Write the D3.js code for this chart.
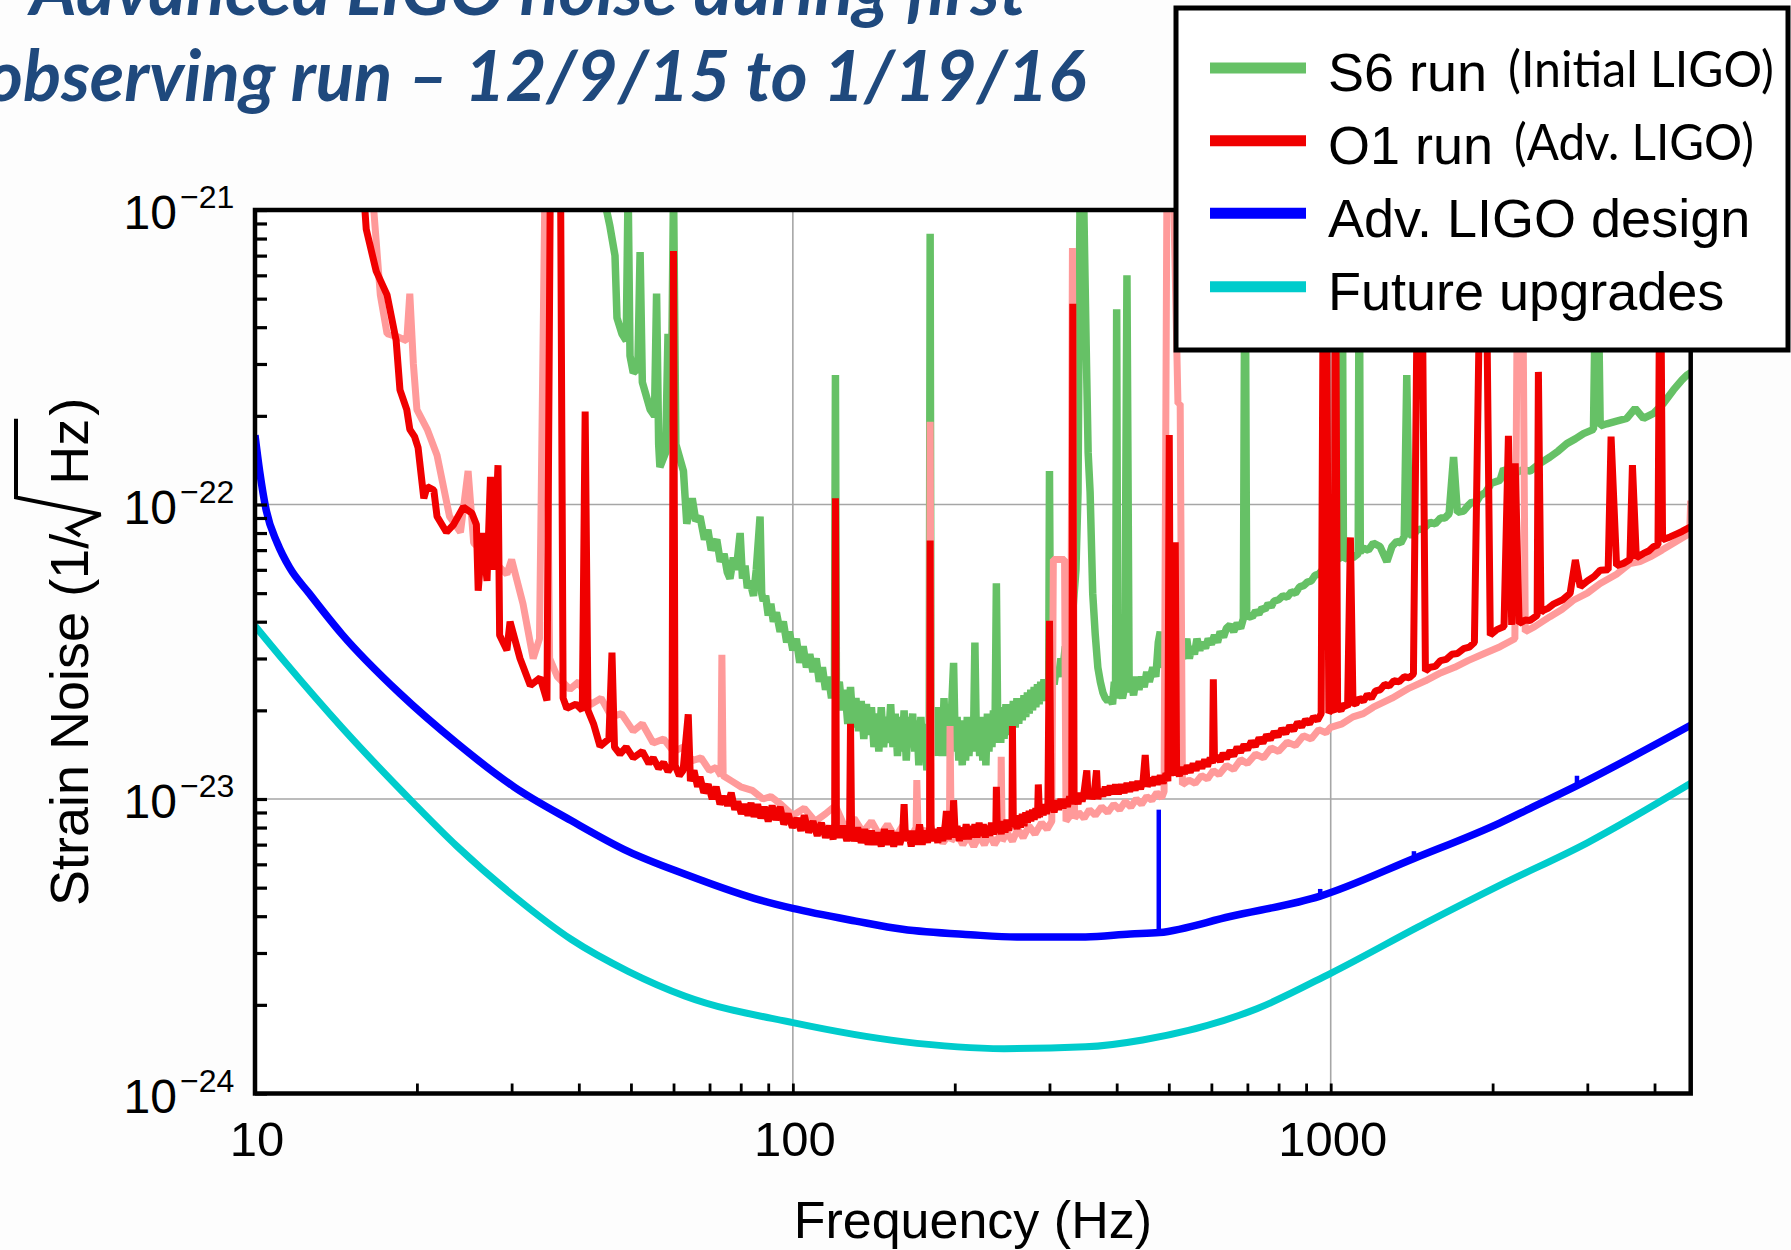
<!DOCTYPE html>
<html>
<head>
<meta charset="utf-8">
<script src="https://cdn.jsdelivr.net/npm/d3@7/dist/d3.min.js"></script>
<style>
  html, body { margin: 0; padding: 0; background: #ffffff; }
  svg { display: block; }
</style>
</head>
<body>
<svg id="chart" width="1791" height="1250"></svg>
<script>
// ---- Data: [frequency (Hz), strain noise (1/sqrt(Hz))] ----
const s6Run = [
  [44.1,1.2e-21],[45.7,8.8e-22],[46.7,7.0e-22],[47.1,4.3e-22],[48.1,3.8e-22],[49.0,3.6e-22],
  [49.4,1.2e-21],[49.8,3.2e-22],[50.5,2.8e-22],[51.5,2.9e-22],[52.0,7.2e-22],[52.5,2.6e-22],
  [54.3,2.1e-22],[55.3,2.0e-22],[55.8,5.2e-22],[56.3,1.6e-22],[56.6,1.34e-22],[58.0,1.5e-22],
  [58.6,3.8e-22],[59.4,2.0e-22],[60.0,1.2e-21],[60.6,1.6e-22],[62.6,1.3e-22],[63.5,8.6e-23],
  [65,1.05e-22],[66,8.8e-23],[67.2,9.1e-23],[68.5,7.6e-23],[69.5,8.2e-23],[70.5,7.0e-23],
  [72.2,7.6e-23],[73.3,6.4e-23],[74.5,6.8e-23],[75.5,5.9e-23],[76.4,5.6e-23],[77.5,6.6e-23],
  [78.5,6.0e-23],[79.8,8.0e-23],[80.6,5.6e-23],[81.5,6.2e-23],[82.3,5.2e-23],[83.2,5.5e-23],
  [84.5,4.9e-23],[85.5,6.0e-23],[86.9,9.1e-23],[87.5,5.0e-23],[88.1,4.7e-23],[89,4.9e-23],
  [90,4.2e-23],[91,4.6e-23],[92,4.0e-23],[93.2,4.3e-23],[94.7,3.7e-23],[96,4.0e-23],
  [97.4,3.4e-23],[98.5,3.7e-23],[100,3.2e-23],[101.5,3.5e-23],[103,2.9e-23],[104.5,3.3e-23],
  [106,2.8e-23],[107.5,3.1e-23],[109,2.7e-23],[110.5,3.0e-23],[112,2.5e-23],[113.5,2.8e-23],
  [115,2.35e-23],[116.5,2.6e-23],[118,2.2e-23],[119.5,2.5e-23],[120,2.75e-22],[120.5,2.3e-23],
  [122,2.5e-23],[123.5,2.0e-23],[125,2.35e-23],[126.5,1.8e-23],[128,2.4e-23],[129.5,1.75e-23],
  [131,2.2e-23],[132.5,1.7e-23],[134,2.15e-23],[135.5,1.6e-23],[137,2.1e-23],[138.5,1.65e-23],
  [140,2.05e-23],[141.5,1.5e-23],[143,1.95e-23],[144.5,1.45e-23],[146,2.05e-23],[147.5,1.5e-23],
  [149,1.9e-23],[150.5,1.55e-23],[152,2.1e-23],[153.5,1.5e-23],[155,1.95e-23],[156.5,1.4e-23],
  [158,1.9e-23],[159.5,1.45e-23],[161,2.0e-23],[162.5,1.35e-23],[164,1.9e-23],[165.5,1.5e-23],
  [167,1.95e-23],[168.5,1.45e-23],[170,1.85e-23],[171.5,1.3e-23],[173,1.9e-23],[174.5,1.4e-23],
  [176,1.8e-23],[177.5,1.25e-23],[179.3,1.7e-23],[180,8.3e-22],[180.7,1.6e-23],[182,1.9e-23],
  [183.5,1.4e-23],[185,2.05e-23],[186.5,1.45e-23],[188,1.95e-23],[189.5,1.4e-23],[191,2.2e-23],
  [192.5,1.5e-23],[194,2.0e-23],[195.5,1.4e-23],[197,1.9e-23],[199,2.9e-23],[200.5,1.45e-23],
  [202,1.9e-23],[203.5,1.35e-23],[205,1.85e-23],[206.5,1.3e-23],[208,1.8e-23],[209.5,1.35e-23],
  [211,1.9e-23],[212.5,1.4e-23],[214,1.8e-23],[215.5,1.45e-23],[217,1.9e-23],[218,3.4e-23],
  [219.5,1.5e-23],[221,1.85e-23],[222.5,1.4e-23],[224,1.9e-23],[225.5,1.35e-23],[227,1.85e-23],
  [228.5,1.3e-23],[230,1.95e-23],[231.5,1.45e-23],[233,1.9e-23],[234.5,1.5e-23],[236,2.0e-23],
  [237.5,1.55e-23],[239,5.4e-23],[240.5,1.6e-23],[242,2.0e-23],[243.5,1.55e-23],[245,2.05e-23],
  [247,1.6e-23],[249,2.1e-23],[251,1.65e-23],[253,2.1e-23],[255,1.7e-23],[257,2.15e-23],
  [259,1.75e-23],[261,2.2e-23],[263,1.8e-23],[265,2.2e-23],[267,1.85e-23],[269,2.25e-23],
  [271,1.9e-23],[273,2.3e-23],[275,1.95e-23],[277,2.35e-23],[279,2.0e-23],[281,2.4e-23],
  [283,2.05e-23],[285,2.45e-23],[287,2.1e-23],[289,2.5e-23],[291,2.15e-23],[293,2.55e-23],
  [295,2.2e-23],[297,2.45e-23],[299,2.4e-23],[300,1.3e-22],[301.5,2.4e-23],[304,2.7e-23],
  [306,2.45e-23],[309,2.8e-23],[312,2.6e-23],[315,3.0e-23],[318,2.8e-23],[321,3.3e-23],
  [324,3.2e-23],[328,3.8e-23],[332,4.5e-23],[336,6.0e-23],[339,1.1e-22],[342,1.2e-21],
  [347,1.2e-21],[351,3.5e-22],[354,1.5e-22],[357,1.1e-22],[361,5.0e-23],[365,3.6e-23],
  [369,2.8e-23],[373,2.5e-23],[377,2.3e-23],[381,2.2e-23],[385,2.15e-23],[389,2.2e-23],
  [393,2.1e-23],[396,2.5e-23],[398,2.2e-23],[400,4.6e-22],[402,2.2e-23],[406,2.35e-23],
  [410,2.2e-23],[414,2.4e-23],[418,6.0e-22],[422,2.3e-23],[426,2.5e-23],[430,2.25e-23],
  [435,2.6e-23],[440,2.35e-23],[445,2.6e-23],[450,2.4e-23],[455,2.7e-23],[460,2.5e-23],
  [467,2.8e-23],[473,2.6e-23],[478,3.4e-23],[482,3.7e-23],[486,2.8e-23],[492,2.9e-23],
  [500,3.0e-23],[506,2.85e-23],[512,3.1e-23],[518,2.9e-23],[525,3.1e-23],[532,3.0e-23],
  [540,3.5e-23],[546,3.0e-23],[552,3.3e-23],[558,3.1e-23],[564,3.5e-23],[571,3.2e-23],
  [578,3.4e-23],[585,3.25e-23],[592,3.5e-23],[600,3.35e-23],[608,3.6e-23],[616,3.4e-23],
  [623,3.7e-23],[632,3.55e-23],[640,3.8e-23],[650,3.9e-23],[660,3.7e-23],[670,3.95e-23],
  [680,3.8e-23],[688,4.1e-23],[693,1.2e-21],[698,4.1e-23],[705,4.2e-23],[715,4.15e-23],
  [725,4.35e-23],[735,4.25e-23],[745,4.45e-23],[755,4.4e-23],[765,4.6e-23],[775,4.5e-23],
  [785,4.7e-23],[800,4.75e-23],[815,4.9e-23],[830,4.85e-23],[845,5.05e-23],[860,5.0e-23],
  [875,5.25e-23],[890,5.3e-23],[905,5.45e-23],[920,5.5e-23],[935,5.75e-23],[950,5.8e-23],
  [965,6.0e-23],[980,6.1e-23],[995,6.3e-23],[1010,6.4e-23],[1030,6.6e-23],[1045,6.5e-23],
  [1050,1.2e-21],[1056,6.5e-23],[1080,6.7e-23],[1100,6.6e-23],[1125,6.8e-23],[1130,1.2e-21],
  [1135,6.9e-23],[1151,7.1e-23],[1175,7.0e-23],[1200,7.4e-23],[1235,7.2e-23],[1272,6.4e-23],
  [1300,7.2e-23],[1327,7.5e-23],[1350,7.4e-23],[1370,7.8e-23],[1385,2.75e-22],[1400,7.9e-23],
  [1425,7.9e-23],[1450,8.2e-23],[1490,8.3e-23],[1531,8.7e-23],[1565,8.6e-23],[1600,9.0e-23],
  [1630,9.0e-23],[1660,9.3e-23],[1692,1.45e-22],[1720,9.4e-23],[1766,9.5e-23],[1800,9.9e-23],
  [1830,1.02e-22],[1860,1.01e-22],[1896,1.07e-22],[1940,1.1e-22],[1990,1.18e-22],[2065,1.21e-22],
  [2096,1.32e-22],[2150,1.27e-22],[2200,1.28e-22],[2270,1.31e-22],[2349,1.3e-22],[2450,1.38e-22],
  [2557,1.45e-22],[2650,1.52e-22],[2748,1.61e-22],[2850,1.67e-22],[2951,1.74e-22],[3080,1.8e-22],
  [3125,1.2e-21],[3170,1.85e-22],[3261,1.88e-22],[3400,1.92e-22],[3552,1.96e-22],[3681,2.12e-22],
  [3815,1.96e-22],[3983,2.04e-22],[4150,2.2e-22],[4338,2.45e-22],[4500,2.65e-22],[4594,2.75e-22],
  [4670,2.8e-22]
];

// O1 run, first detector (bright red)
const o1RunA = [
  [15.9,1.2e-21],[16.1,8.6e-22],[16.8,6.2e-22],[17.6,5.15e-22],[18.3,3.6e-22],[18.6,2.45e-22],
  [19.15,2.1e-22],[19.4,1.8e-22],[19.8,1.7e-22],[20.1,1.56e-22],[20.6,1.05e-22],[20.9,1.15e-22],
  [21.5,1.12e-22],[21.8,9.1e-23],[22.7,8.05e-23],[23.4,8.55e-23],[24.4,9.8e-23],[25.3,9.35e-23],
  [25.8,8.55e-23],[26.0,5.1e-23],[26.5,8.0e-23],[27.0,5.5e-23],[27.4,1.24e-22],[27.8,6.0e-23],
  [28.3,1.36e-22],[28.5,3.6e-23],[29.4,3.2e-23],[29.8,4.0e-23],[31.1,3.0e-23],[32.5,2.43e-23],
  [33.9,2.58e-23],[34.9,2.16e-23],[35.4,1.2e-21],[37.0,1.2e-21],[37.4,2.2e-23],[38.0,2.03e-23],
  [39.5,2.1e-23],[40.6,2.0e-23],[41.1,2.07e-22],[41.6,2.0e-23],[42.6,1.8e-23],[43.8,1.51e-23],
  [45.5,1.6e-23],[46.1,3.14e-23],[46.6,1.5e-23],[47.7,1.42e-23],[49,1.5e-23],[50.5,1.38e-23],
  [52.5,1.45e-23],[54,1.32e-23],[55.0,1.38e-23],[56.3,1.27e-23],[57.5,1.33e-23],[58.6,1.24e-23],
  [59.6,1.3e-23],[60.0,7.26e-22],[60.4,1.3e-23],[61.5,1.2e-23],[62.5,1.25e-23],[63.9,1.94e-23],
  [64.5,1.15e-23],[65.5,1.25e-23],[66.5,1.1e-23],[67.2,1.19e-23],[68.3,1.05e-23],[69.6,1.12e-23],
  [70.8,1.0e-23],[72,1.1e-23],[73.2,9.6e-24],[74.5,1.02e-23],[75.6,9.5e-24],[76.8,1.05e-23],
  [78,9.2e-24],[79,9.8e-24],[80.2,8.9e-24],[81.3,9.6e-24],[82.5,8.8e-24],[83.6,9.7e-24],
  [84.7,8.7e-24],[86,9.6e-24],[87.2,8.6e-24],[88.5,9.4e-24],[90,8.4e-24],[91.5,9.5e-24],
  [93,8.5e-24],[94.7,9.4e-24],[96.2,8.2e-24],[98,8.9e-24],[99.8,8.0e-24],[101.7,8.6e-24],
  [103.5,7.8e-24],[105,8.8e-24],[107,7.7e-24],[109,8.4e-24],[111,7.5e-24],[113,8.3e-24],
  [115,7.4e-24],[117,8.1e-24],[118.8,7.3e-24],[119.6,8.0e-24],[120,1.05e-22],[120.5,8.0e-24],
  [122,7.4e-24],[124,8.1e-24],[126,7.2e-24],[127.5,8.0e-24],[128,1.8e-23],[128.6,7.8e-24],
  [130,7.2e-24],[132,8.0e-24],[134,7.1e-24],[136,7.9e-24],[138,7.0e-24],[140,7.8e-24],
  [142,7.0e-24],[144,7.7e-24],[146,6.9e-24],[148,7.9e-24],[150,7.0e-24],[152,7.8e-24],
  [154,6.9e-24],[156,7.7e-24],[158,7.0e-24],[160,7.6e-24],[161,9.6e-24],[162,7.2e-24],
  [164,7.8e-24],[166,6.9e-24],[168,7.8e-24],[170,7.0e-24],[172,8.2e-24],[174,7.0e-24],
  [176,7.8e-24],[178,7.1e-24],[179.6,8.0e-24],[180,7.55e-23],[180.5,8.2e-24],[182,7.2e-24],
  [184,7.9e-24],[186,7.1e-24],[188,8.0e-24],[190,7.2e-24],[192,8.2e-24],[193,9.1e-24],
  [194.5,7.3e-24],[196,8.0e-24],[198,7.4e-24],[199,9.9e-24],[200.5,7.4e-24],[202,8.1e-24],
  [204,7.2e-24],[206,8.0e-24],[208,7.3e-24],[210,8.2e-24],[212,7.3e-24],[214,8.1e-24],
  [216,7.4e-24],[218,8.2e-24],[220,7.4e-24],[222,8.3e-24],[224,7.5e-24],[226,8.2e-24],
  [228,7.4e-24],[230,8.1e-24],[232,7.5e-24],[234,8.3e-24],[236,7.6e-24],[238.5,8.2e-24],
  [239,1.1e-23],[240,7.7e-24],[242,8.3e-24],[244,7.6e-24],[246,8.4e-24],[248,7.7e-24],
  [250,8.5e-24],[252,7.8e-24],[254,8.5e-24],[255.5,8.0e-24],[256,1.77e-23],[257,8.1e-24],
  [259,8.7e-24],[261,7.9e-24],[263,8.8e-24],[265,8.0e-24],[267,8.9e-24],[269,8.1e-24],
  [271,9.0e-24],[273,8.3e-24],[275,9.1e-24],[277,8.4e-24],[279,9.2e-24],[281,8.5e-24],
  [283,9.3e-24],[285,8.6e-24],[286,1.12e-23],[287.5,8.7e-24],[290,9.4e-24],[292,8.8e-24],
  [294,9.6e-24],[296,8.9e-24],[298,9.7e-24],[300,4.03e-23],[302,9.1e-24],[304,9.8e-24],
  [306,9.0e-24],[309,9.9e-24],[312,9.2e-24],[315,1.0e-23],[318,9.3e-24],[321,1.0e-23],
  [324,9.4e-24],[327,1.02e-23],[330,9.6e-24],[331.5,4.8e-22],[333,9.6e-24],[336,1.03e-23],
  [339,9.6e-24],[342,1.05e-23],[345,9.8e-24],[348,1.06e-23],[352,1.25e-23],[354,1.0e-23],
  [357,1.07e-23],[360,1.0e-23],[364,1.08e-23],[367,1.25e-23],[369,1.0e-23],[373,1.08e-23],
  [377,1.02e-23],[381,1.1e-23],[385,1.03e-23],[389,1.11e-23],[394,1.04e-23],[398,1.12e-23],
  [403,1.04e-23],[408,1.12e-23],[413,1.05e-23],[418,1.13e-23],[423,1.06e-23],[428,1.14e-23],
  [433,1.07e-23],[438,1.15e-23],[443,1.08e-23],[448,1.16e-23],[452,1.41e-23],[456,1.1e-23],
  [461,1.18e-23],[466,1.11e-23],[471,1.19e-23],[476,1.12e-23],[482,1.2e-23],[488,1.13e-23],
  [494,1.22e-23],[498,1.15e-23],[501,1.72e-22],[504,1.2e-23],[508,1.3e-23],[511,1.2e-23],
  [514,7.45e-23],[517,1.25e-23],[523,1.2e-23],[529,1.28e-23],[535,1.22e-23],[541,1.3e-23],
  [548,1.23e-23],[555,1.32e-23],[562,1.25e-23],[569,1.34e-23],[576,1.27e-23],[583,1.36e-23],
  [590,1.29e-23],[597,1.38e-23],[603,1.32e-23],[605,2.55e-23],[608,1.35e-23],[615,1.4e-23],
  [623,1.34e-23],[631,1.43e-23],[640,1.37e-23],[650,1.46e-23],[660,1.4e-23],[670,1.5e-23],
  [680,1.44e-23],[690,1.53e-23],[700,1.47e-23],[712,1.57e-23],[724,1.51e-23],[736,1.61e-23],
  [748,1.55e-23],[760,1.65e-23],[772,1.59e-23],[785,1.69e-23],[798,1.63e-23],[811,1.73e-23],
  [825,1.67e-23],[839,1.77e-23],[853,1.71e-23],[868,1.82e-23],[883,1.76e-23],[898,1.86e-23],
  [913,1.8e-23],[929,1.9e-23],[945,1.85e-23],[960,1.95e-23],[970,1.2e-21],[980,1.2e-21],
  [992,1.96e-23],[1005,2.02e-23],[1015,1.97e-23],[1020,1.2e-21],[1030,2.05e-23],[1045,2.0e-23],
  [1060,2.1e-23],[1075,2.05e-23],[1088,7.73e-23],[1100,2.12e-23],[1114,2.1e-23],[1130,2.2e-23],
  [1150,2.15e-23],[1170,2.26e-23],[1190,2.2e-23],[1212,2.33e-23],[1236,2.35e-23],[1260,2.45e-23],
  [1285,2.42e-23],[1310,2.52e-23],[1340,2.5e-23],[1370,2.6e-23],[1400,2.58e-23],[1425,2.66e-23],
  [1455,1.2e-21],[1475,1.2e-21],[1500,2.72e-23],[1531,2.8e-23],[1565,2.82e-23],[1600,2.95e-23],
  [1640,2.98e-23],[1680,3.1e-23],[1720,3.12e-23],[1766,3.24e-23],[1810,3.28e-23],[1850,3.4e-23],
  [1905,1.2e-21],[1940,1.2e-21],[1980,3.6e-23],[2037,3.76e-23],[2100,3.85e-23],[2140,1.71e-22],
  [2170,3.9e-23],[2203,1.38e-22],[2240,3.95e-23],[2300,4.05e-23],[2349,4.04e-23],[2420,4.2e-23],
  [2433,2.82e-22],[2460,4.3e-23],[2486,4.37e-23],[2540,4.45e-23],[2600,4.6e-23],[2700,4.75e-23],
  [2787,4.99e-23],[2850,6.48e-23],[2910,5.25e-23],[3000,5.5e-23],[3090,5.7e-23],[3170,5.98e-23],
  [3280,6.0e-23],[3321,1.7e-22],[3400,6.2e-23],[3502,6.31e-23],[3600,6.5e-23],[3639,1.36e-22],
  [3700,6.6e-23],[3815,6.82e-23],[3900,6.95e-23],[3983,7.19e-23],[4060,7.3e-23],[4098,1.2e-21],
  [4140,7.6e-23],[4276,7.76e-23],[4400,7.95e-23],[4500,8.1e-23],[4670,8.4e-23]
];

// O1 run, second detector (light red)
const o1RunB = [
  [16.5,1.2e-21],[17.1,5.15e-22],[17.6,3.8e-22],[18.5,3.7e-22],[19.15,3.6e-22],[19.4,5.2e-22],
  [19.7,3.0e-22],[20.0,2.1e-22],[20.9,1.8e-22],[21.8,1.47e-22],[23.0,9.1e-23],[24.1,8.05e-23],
  [24.9,1.3e-22],[25.5,7.4e-23],[27.5,6.5e-23],[29.4,5.8e-23],[30.0,6.5e-23],[31.5,4.6e-23],
  [32.9,3.0e-23],[33.8,3.5e-23],[34.6,1.2e-21],[35.3,3.0e-23],[36.5,2.6e-23],[38.5,2.36e-23],
  [40,2.5e-23],[42,2.09e-23],[44,2.2e-23],[46,1.9e-23],[48,1.95e-23],[50.5,1.7e-23],
  [52.5,1.8e-23],[55,1.55e-23],[57.5,1.6e-23],[60,1.45e-23],[62.5,1.5e-23],[65,1.35e-23],
  [67.5,1.38e-23],[70,1.25e-23],[72,1.28e-23],[73.5,1.2e-23],[73.8,3.09e-23],[74.2,1.2e-23],
  [77,1.15e-23],[80,1.1e-23],[84,1.07e-23],[88,1.0e-23],[91,1.02e-23],[95,9.6e-24],
  [100,8.8e-24],[105,9.3e-24],[110,8.4e-24],[115,8.9e-24],[120,9.5e-24],[125,8.0e-24],
  [130,8.6e-24],[135,7.7e-24],[140,8.4e-24],[145,7.5e-24],[150,8.2e-24],[155,7.4e-24],
  [160,8.1e-24],[165,7.3e-24],[169.5,8.0e-24],[170,1.16e-23],[171,7.6e-24],[175,7.9e-24],
  [179.5,7.3e-24],[180,1.91e-22],[181,7.3e-24],[185,7.8e-24],[190,7.1e-24],[195.5,7.6e-24],
  [196,1.77e-23],[197,7.2e-24],[202,7.6e-24],[207,7.0e-24],[212,7.5e-24],[217,6.9e-24],
  [222,7.5e-24],[227,7.0e-24],[232,7.6e-24],[237,7.0e-24],[243.5,7.6e-24],[244,1.39e-23],
  [245,7.2e-24],[250,7.7e-24],[256,7.2e-24],[262,7.9e-24],[268,7.4e-24],[275,8.1e-24],
  [282,7.6e-24],[290,8.3e-24],[297,7.9e-24],[303,8.4e-24],[305,6.5e-23],[320,6.5e-23],
  [322,8.4e-24],[328,8.8e-24],[331,7.43e-22],[334,8.6e-24],[340,9.0e-24],[348,8.6e-24],
  [356,9.2e-24],[365,8.8e-24],[375,9.4e-24],[385,9.0e-24],[395,9.6e-24],[405,9.2e-24],
  [415,9.8e-24],[425,9.4e-24],[435,1.0e-23],[445,9.6e-24],[455,1.02e-23],[465,9.9e-24],
  [475,1.05e-23],[485,1.01e-23],[490,1.06e-23],[496,1.2e-21],[510,1.2e-21],[520,2.2e-22],
  [525,2.2e-22],[530,1.12e-23],[545,1.16e-23],[560,1.13e-23],[575,1.2e-23],[590,1.17e-23],
  [605,1.25e-23],[620,1.21e-23],[640,1.3e-23],[660,1.26e-23],[680,1.36e-23],[700,1.32e-23],
  [725,1.42e-23],[750,1.38e-23],[775,1.49e-23],[800,1.45e-23],[830,1.56e-23],[860,1.52e-23],
  [890,1.64e-23],[920,1.6e-23],[950,1.72e-23],[980,1.68e-23],[1000,1.75e-23],[1050,1.8e-23],
  [1100,1.9e-23],[1150,1.95e-23],[1200,2.05e-23],[1300,2.2e-23],[1400,2.38e-23],[1500,2.52e-23],
  [1600,2.68e-23],[1700,2.8e-23],[1800,2.95e-23],[1930,3.12e-23],[2065,3.29e-23],[2200,3.5e-23],
  [2230,1.2e-21],[2270,1.2e-21],[2300,3.7e-23],[2394,3.85e-23],[2557,4.16e-23],[2690,4.4e-23],
  [2826,4.73e-23],[3000,5.0e-23],[3170,5.39e-23],[3400,5.8e-23],[3600,6.3e-23],[3760,6.4e-23],
  [3926,6.64e-23],[4130,7.0e-23],[4327,7.37e-23],[4500,7.7e-23],[4650,7.98e-23],[4670,1.03e-22]
];

const advLigoDesign = [
  [10,1.72e-22],[10.2,1.3e-22],[10.5,9.5e-23],[11.0,7.4e-23],[11.6,6.1e-23],[12.6,5.0e-23],
  [14.5,3.63e-23],[18.6,2.28e-23],[23.7,1.55e-23],[30.3,1.1e-23],[38.7,8.45e-24],[49.4,6.64e-24],
  [63.1,5.55e-24],[84.7,4.6e-24],[100,4.25e-24],[131,3.85e-24],[160,3.61e-24],[214,3.46e-24],
  [261,3.40e-24],[350,3.40e-24],[424,3.48e-24],[480,3.52e-24],[650,3.99e-24],[956,4.68e-24],
  [1428,6.28e-24],[2065,8.3e-24],[2349,9.3e-24],[2870,1.11e-23],[4670,1.78e-23]
];
// narrow resonances on the design curve: [frequency, base, peak]
const advLigoDesignLines = [
  [479, 3.5e-24, 9.2e-24], [956, 4.68e-24, 4.95e-24], [1428, 6.28e-24, 6.65e-24], [2870, 1.11e-23, 1.2e-23]
];

const futureUpgrades = [
  [10,3.87e-23],[11.4,2.9e-23],[14.5,1.75e-23],[19.7,9.7e-24],[23.7,6.93e-24],[30.3,4.68e-24],
  [38.7,3.34e-24],[49.4,2.6e-24],[63.1,2.14e-24],[100,1.74e-24],[160,1.5e-24],[247,1.42e-24],
  [350,1.44e-24],[447,1.52e-24],[729,1.94e-24],[1000,2.56e-24],[1500,3.79e-24],[2065,5.1e-24],
  [3000,7.1e-24],[4670,1.13e-23]
];

const xTickValues = [10, 100, 1000];
const yTickExponents = [-21, -22, -23, -24];
const legendLabels = ["S6 run", "O1 run", "Adv. LIGO design", "Future upgrades"];
const legendNotes = ["(Initial LIGO)", "(Adv. LIGO)", "", ""];
const titleLines = ["Advanced LIGO noise during first", "observing run \u2013 12/9/15 to 1/19/16"];

// ---- Layout ----
const svg = d3.select("#chart");
const plot = { left: 255, right: 1690.7, top: 210, bottom: 1093.5 };
const x = d3.scaleLog().domain([10, 4670]).range([plot.left, plot.right]);
const y = d3.scaleLog().domain([1e-24, 1e-21]).range([plot.bottom, plot.top]);
const sansFont = "'Liberation Sans', Arial, Helvetica, sans-serif";
const titleFont = "Lato, 'Open Sans', sans-serif";

svg.append("rect").attr("width", 1791).attr("height", 1250).attr("fill", "#fdfdfd");
svg.append("rect")
  .attr("x", plot.left).attr("y", plot.top)
  .attr("width", plot.right - plot.left).attr("height", plot.bottom - plot.top)
  .attr("fill", "#ffffff");

svg.append("defs").append("clipPath").attr("id", "plotClip")
  .append("rect")
  .attr("x", plot.left).attr("y", plot.top)
  .attr("width", plot.right - plot.left).attr("height", plot.bottom - plot.top);

// Decade grid lines
const grid = svg.append("g").attr("stroke", "#a6a6a6").attr("stroke-width", 1.6);
grid.selectAll(".gx").data([100, 1000]).join("line")
  .attr("x1", d => x(d)).attr("x2", d => x(d))
  .attr("y1", plot.top).attr("y2", plot.bottom);
grid.selectAll(".gy").data([1e-22, 1e-23]).join("line")
  .attr("x1", plot.left).attr("x2", plot.right)
  .attr("y1", d => y(d)).attr("y2", d => y(d));

// Traces
const lineLinear = d3.line().x(d => x(d[0])).y(d => y(d[1]));
const lineSmooth = d3.line().x(d => x(d[0])).y(d => y(d[1])).curve(d3.curveMonotoneX);
const traces = svg.append("g").attr("clip-path", "url(#plotClip)")
  .attr("fill", "none").attr("stroke-linejoin", "bevel");

traces.append("path").datum(s6Run).attr("d", lineLinear)
  .attr("stroke", "#66c166").attr("stroke-width", 7.5);
traces.append("path").datum(o1RunB).attr("d", lineLinear)
  .attr("stroke", "#ff9a9a").attr("stroke-width", 7);
traces.append("path").datum(o1RunA).attr("d", lineLinear)
  .attr("stroke", "#f00000").attr("stroke-width", 7);
traces.append("path").datum(advLigoDesign).attr("d", lineSmooth)
  .attr("stroke", "#0000ff").attr("stroke-width", 7.5).attr("stroke-linejoin", "round");
traces.selectAll(".res").data(advLigoDesignLines).join("line")
  .attr("x1", d => x(d[0])).attr("x2", d => x(d[0]))
  .attr("y1", d => y(d[1])).attr("y2", d => y(d[2]))
  .attr("stroke", "#0000ff").attr("stroke-width", 4.5);
traces.append("path").datum(futureUpgrades).attr("d", lineSmooth)
  .attr("stroke", "#00cccc").attr("stroke-width", 7).attr("stroke-linejoin", "round");

// Ticks (inside the frame)
const yAxis = svg.append("g").attr("transform", `translate(${plot.left},0)`)
  .call(d3.axisLeft(y).tickValues(y.ticks()).tickSize(-12).tickFormat(() => ""));
yAxis.select(".domain").remove();
yAxis.selectAll("line").attr("stroke", "#000").attr("stroke-width", 3.2);

const xAxis = svg.append("g").attr("transform", `translate(0,${plot.bottom})`)
  .call(d3.axisBottom(x).tickValues(x.ticks()).tickSize(-10).tickFormat(() => ""));
xAxis.select(".domain").remove();
xAxis.selectAll("line").attr("stroke", "#000").attr("stroke-width", 2.8);

// Frame
svg.append("rect")
  .attr("x", plot.left).attr("y", plot.top)
  .attr("width", plot.right - plot.left).attr("height", plot.bottom - plot.top)
  .attr("fill", "none").attr("stroke", "#000").attr("stroke-width", 4.5);

// Tick labels
const labels = svg.append("g").attr("font-family", sansFont).attr("fill", "#000");
labels.selectAll(".xl").data(xTickValues).join("text")
  .attr("x", d => x(d) + 2).attr("y", plot.bottom + 62)
  .attr("text-anchor", "middle").attr("font-size", 49)
  .text(d => d3.format("d")(d));

yTickExponents.forEach(e => {
  const yy = y(Math.pow(10, e));
  labels.append("text").attr("x", 177).attr("y", yy + 19)
    .attr("text-anchor", "end").attr("font-size", 48).text("10");
  labels.append("text").attr("x", 180).attr("y", yy - 2)
    .attr("text-anchor", "start").attr("font-size", 32).text("\u2212" + Math.abs(e));
});

// Axis titles
svg.append("text")
  .attr("x", (plot.left + plot.right) / 2).attr("y", 1238)
  .attr("text-anchor", "middle").attr("font-family", sansFont).attr("font-size", 52)
  .text("Frequency (Hz)");

const yTitle = svg.append("g")
  .attr("font-family", sansFont).attr("font-size", 54)
  .attr("transform", "translate(88,906) rotate(-90)");
const yMain = yTitle.append("text").attr("x", 0).attr("y", 0).text("Strain Noise (1/");
const u0 = yMain.node().getComputedTextLength();
// radical sign over "Hz", drawn along the rotated baseline
yTitle.append("path")
  .attr("d", `M${u0 - 2},-8 L${u0 + 5.5},-19.5 L${u0 + 19.5},12.5 L${u0 + 36.5},-72 L${u0 + 115},-72`)
  .attr("fill", "none").attr("stroke", "#000").attr("stroke-width", 4)
  .attr("stroke-linejoin", "miter").attr("stroke-miterlimit", 3);
yTitle.append("text").attr("x", u0 + 49).attr("y", 0).text("Hz");
yTitle.append("text").attr("x", u0 + 118).attr("y", 0).text(")");

// Title
const title = svg.append("g").attr("font-family", titleFont)
  .attr("font-weight", 700).attr("font-style", "italic").attr("fill", "#1f497d");
title.append("text").attr("x", 30).attr("y", 15).attr("font-size", 70)
  .attr("textLength", 996).attr("lengthAdjust", "spacingAndGlyphs").text(titleLines[0]);
title.append("text").attr("x", -14).attr("y", 101).attr("font-size", 70)
  .attr("textLength", 1100).attr("lengthAdjust", "spacingAndGlyphs").text(titleLines[1]);

// Legend
const legendColors = ["#66c166", "#f00000", "#0000ff", "#00cccc"];
const legend = svg.append("g");
legend.append("rect").attr("x", 1176).attr("y", 8).attr("width", 612).attr("height", 342)
  .attr("fill", "#ffffff").attr("stroke", "#000").attr("stroke-width", 5);
const rowY = [68, 140.7, 213.3, 286.7];
const rowBase = [90.7, 164, 237, 310];
legendLabels.forEach((lab, i) => {
  legend.append("line").attr("x1", 1210).attr("x2", 1306)
    .attr("y1", rowY[i]).attr("y2", rowY[i])
    .attr("stroke", legendColors[i]).attr("stroke-width", 11);
  legend.append("text").attr("x", 1328).attr("y", rowBase[i])
    .attr("font-family", sansFont).attr("font-size", 54).text(lab);
});
legend.append("text").attr("x", 1508).attr("y", 87)
  .attr("font-family", titleFont).attr("font-size", 50)
  .attr("textLength", 266).attr("lengthAdjust", "spacingAndGlyphs").text(legendNotes[0]);
legend.append("text").attr("x", 1514).attr("y", 160)
  .attr("font-family", titleFont).attr("font-size", 50)
  .attr("textLength", 240).attr("lengthAdjust", "spacingAndGlyphs").text(legendNotes[1]);
</script>
</body>
</html>
